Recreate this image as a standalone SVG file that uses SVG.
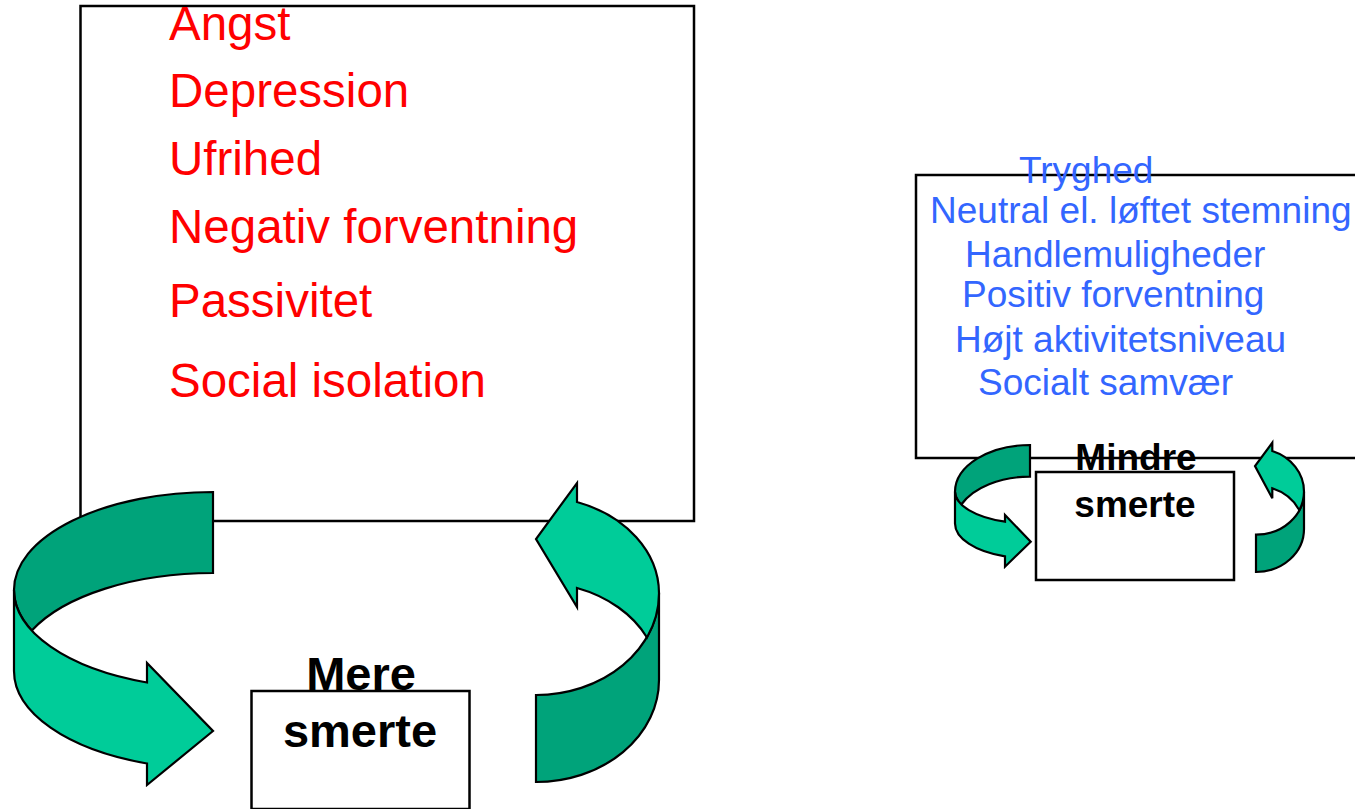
<svg xmlns="http://www.w3.org/2000/svg" width="1355" height="809" viewBox="0 0 1355 809">
<style>
.box{fill:#FFFFFF;stroke:#000000;stroke-width:2.5}
.red{font-family:"Liberation Sans",Arial,sans-serif;font-size:47.5px;fill:#FF0000}
.blue{font-family:"Liberation Sans",Arial,sans-serif;font-size:37px;fill:#3366FF}
.lbl{font-family:"Liberation Sans",Arial,sans-serif;font-weight:bold;fill:#000000;text-anchor:middle}
.dark{fill:#00A37A;stroke:#000000;stroke-width:2.2;stroke-linejoin:miter}
.light{fill:#00CC99;stroke:#000000;stroke-width:2.2;stroke-linejoin:miter}
</style>
<rect width="1355" height="809" fill="#FFFFFF"/>
<g id="negative-box">
<rect class="box" x="80.5" y="6" width="613.5" height="515"/>
</g>
<g id="positive-box">
<rect class="box" x="916" y="175" width="460" height="283"/>
</g>
<g id="more-pain">
<rect class="box" x="251.5" y="691" width="218" height="118"/>
</g>
<g id="less-pain">
<rect class="box" x="1036" y="472" width="198" height="108"/>
</g>
<g id="connectors">
<path class="dark" d="M213,492 A199 98 0 0 0 14,590 A199 98 0 0 0 31.8,630.5 A199 98 0 0 1 213,573 Z"/>
<path class="light" d="M14,590 L14,671 A199 98 0 0 0 147,763.5 L147,785 L213,731 L147,663 L147,682.5 A199 98 0 0 1 14,590 Z"/>
<path class="dark" d="M536,695 L536,782 A123 102 0 0 0 659,680 L659,593 A123 102 0 0 1 536,695 Z"/>
<path class="light" d="M577,502 A123 97 0 0 1 659,593 A123 102 0 0 1 647,637.5 A123 97 0 0 0 577,588 L577,607 L536,539 L577,483 Z"/>
<path class="dark" d="M1030,445 A75 47 0 0 0 955,491.7 A75 32 0 0 0 961.3,504.5 A75 47 0 0 1 1030,476.7 Z"/>
<path class="light" d="M955,491.7 L955,523.4 A75 35 0 0 0 1005,556.4 L1005,566.7 L1030.7,541.7 L1005,515 L1005,521.7 A75 32 0 0 1 955,491.7 Z"/>
<path class="dark" d="M1256,534.7 L1256,572 A48 43 0 0 0 1304,528.7 L1304,491.7 A48 43 0 0 1 1256,534.7 Z"/>
<path class="light" d="M1272.3,451 A48 43 0 0 1 1304,491.7 A48 43 0 0 1 1299.3,510.2 A48 43 0 0 0 1272.3,488.3 L1272.3,498.3 L1255,466 L1272.3,442.7 Z"/>
</g>
<g id="negative-texts">
<text class="red" x="169" y="40">Angst</text>
<text class="red" x="169" y="107">Depression</text>
<text class="red" x="169" y="175">Ufrihed</text>
<text class="red" x="169" y="243">Negativ forventning</text>
<text class="red" x="169" y="317">Passivitet</text>
<text class="red" x="169" y="397">Social isolation</text>
</g>
<g id="positive-texts">
<text class="blue" x="1019" y="183">Tryghed</text>
<text class="blue" x="930" y="223">Neutral el. løftet stemning</text>
<text class="blue" x="965" y="267">Handlemuligheder</text>
<text class="blue" x="962" y="307">Positiv forventning</text>
<text class="blue" x="955" y="352">Højt aktivitetsniveau</text>
<text class="blue" x="978" y="395">Socialt samvær</text>
</g>
<g id="more-pain-label">
<text class="lbl" font-size="47" x="361" y="690">Mere</text>
<text class="lbl" font-size="47" x="360" y="747">smerte</text>
</g>
<g id="less-pain-label">
<text class="lbl" font-size="37" x="1136" y="470">Mindre</text>
<text class="lbl" font-size="37" x="1135" y="517">smerte</text>
</g>
</svg>
